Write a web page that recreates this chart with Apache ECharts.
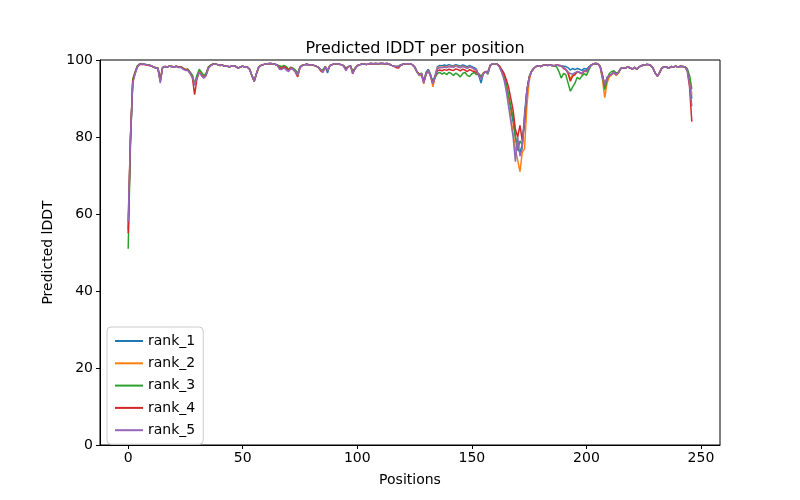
<!DOCTYPE html>
<html>
<head>
<meta charset="utf-8">
<script src="https://cdn.jsdelivr.net/npm/echarts@6/dist/echarts.min.js"></script>
<style>html,body{margin:0;padding:0;background:#fff;}#c{width:800px;height:500px;}</style>
</head>
<body>
<div id="c"></div>
<script>
const seriesNames = ["rank_1","rank_2","rank_3","rank_4","rank_5"];
const xTicks = [0,50,100,150,200,250];
const yTicks = [0,20,40,60,80,100];

const rank_1 = [
56,79,94.5,96.8,98.3,98.9,99,98.9,98.8,98.7,
98.5,98.2,98,97.8,94.5,98,98.3,98.2,98.4,98.3,
98.2,98.4,98.1,98.2,97.8,97.5,97.6,96.8,96,93.5,
95.8,97,96.3,95.6,96.3,98,98.6,98.9,99,98.8,
98.6,98.7,98.4,98.5,98.2,98.4,98.5,98.3,97.9,98.2,
98.4,98.1,98.2,97.6,96,94.5,96.5,98.2,98.6,98.8,
99,99,99.1,99,98.9,98.7,98,97.8,98.3,97.9,
97.5,98.1,97.8,97.3,96.5,98.2,98.6,98.8,98.9,98.7,
98.8,98.6,98.4,98.1,97.5,97,98.3,96.6,98.5,98.8,
99,99,98.9,98.8,98.5,97.6,98.2,98.5,97,97.8,
98.5,98.8,98.9,99,98.8,99,99.1,99,99.1,99,
99.1,99.1,99,99.1,98.9,98.6,98.4,98.3,98.4,98.7,
98.9,99,99,99,98.8,98.2,97,96.2,96.5,94.3,
96.8,97.6,96.2,94.2,96.2,98.3,98.6,98.5,98.7,98.5,
98.8,98.6,98.5,98.8,98.6,98.4,98.7,98.5,98.2,98.6,
98.3,98,97.6,96,94,96.5,97,97,98.6,99,
99,98.9,98.3,97,95.5,93,90,87,84,80,
77,76,78,86,92,95.5,97,97.8,98.3,98.5,
98.3,98.6,98.8,98.6,98.7,98.6,98.5,98.7,98.6,98.5,
98.4,98.3,98,97.4,97.8,97.5,97.8,97.6,97.3,97.8,
97.6,98.2,98.7,99,99.1,99,98.4,96.2,93.2,95.5,
96,96.3,96.8,96.2,96.8,97.8,98,97.9,98.2,98,
97.6,98.1,97.6,98.2,98.5,98.7,98.8,98.8,98.6,98,
96.6,95.8,96.8,98,98.2,98.1,97.9,98.3,98.2,98.4,
98.1,98.4,98.3,98.2,97.5,95,90];

const rank_2 = [
58,80,95,96.8,98.4,99,99.1,98.9,98.8,98.7,
98.5,98.2,98,97.8,94.5,98,98.3,98.2,98.4,98.3,
98.2,98.4,98.1,98.2,97.8,97.5,97.6,96.8,96,93.5,
95.6,97.2,96.4,95.6,96.4,98.1,98.6,98.9,99,98.8,
98.6,98.7,98.4,98.5,98.2,98.4,98.5,98.3,97.9,98.2,
98.4,98.1,98.2,97.6,96,94.5,96.5,98.2,98.6,98.8,
99,99,99.1,99,98.9,98.7,98.3,98.2,98.4,98.2,
97.5,98.1,97.8,97.3,96.5,98.2,98.6,98.8,98.9,98.7,
98.8,98.6,98.4,98.1,97.5,97,98.3,97.2,98.5,98.8,
99,99,98.9,98.8,98.5,97.6,98.2,98.5,97,97.8,
98.5,98.8,98.9,99,98.8,99,99.1,99,99.1,99,
99.1,99.1,99,99.1,98.9,98.6,98.4,98.3,98.4,98.7,
98.9,99,99,99,98.8,98.2,97,96,96,93.8,
96.4,97.4,95.8,93,95.8,98,98.2,98.1,98.3,98.2,
98.4,98.3,98.3,98.5,98.3,98,98.4,98.2,97.9,98.3,
98,97.6,97.4,96,95.5,96.7,97,96.8,98.6,99,
99,98.9,98.3,97,95.5,93,89,85,81,77,
74,71,76,77,88,94.5,97,97.8,98.3,98.5,
98.3,98.6,98.8,98.6,98.7,98.6,98.5,98.7,98.6,98.5,
98,97.6,96.8,95,96.2,96.2,97,96.8,96.3,97,
97,97.8,98.6,99,99.1,99,98.2,95,90.2,94,
95.6,96.2,96.6,96,96.6,97.8,98,98,98.2,98,
97.6,98.1,97.6,98.2,98.5,98.7,98.8,98.8,98.6,98,
96.6,95.8,96.8,98,98.2,98.1,97.9,98.3,98.2,98.4,
98.1,98.4,98.3,98.2,97.5,95.5,91];

const rank_3 = [
51,78,95,96.8,98.5,99,99,98.9,98.8,98.7,
98.5,98.2,98,98,94.8,98,98.3,98.2,98.4,98.3,
98.2,98.4,98.1,98.2,97.8,97.5,97.6,96.8,96,93.8,
96,97.6,96.8,96,96.5,98.2,98.7,99,99,98.8,
98.6,98.7,98.4,98.5,98.2,98.4,98.5,98.3,97.9,98.2,
98.4,98.1,98.2,97.6,96,94.5,96.5,98.2,98.6,98.8,
99,99,99.1,99,98.9,98.7,98.5,98.3,98.6,98.3,
97.5,98.1,97.8,97.3,96.5,98.2,98.6,98.8,98.9,98.7,
98.8,98.6,98.4,98.1,97.5,97.5,98.3,97.2,98.5,98.8,
99,99,98.9,98.8,98.5,98,98.2,98.5,97,97.8,
98.5,98.8,98.9,99,98.8,99,99.1,99,99.1,99,
99.1,99.1,99,99.1,98.9,98.6,98.4,98.3,98.4,98.7,
98.9,99,99,99,98.8,98.2,97,96.3,96.6,94.5,
96.5,97.4,96,94,95.5,96.5,96.8,96.3,96.7,96.2,
96.8,96.5,96,96.6,96.2,95.6,96.5,96.8,96,95.7,
96.4,96.8,96.2,96.5,95.8,96.5,97,96.3,98.6,99,
99,98.9,98.5,97.5,96.5,94,91,88,85,80,
76.5,79,78,84,92,95.5,97,97.8,98.3,98.5,
98.3,98.6,98.8,98.6,98.7,98.6,98.5,98.2,97,95.3,
96.5,96.2,94,91.9,93,94,95.5,95,95.8,96.5,
96,97.3,98.6,99,99.1,99,98.2,95.5,92.3,94.8,
96.5,97,97.2,96.6,96.8,97.8,98,97.9,98.2,98,
97.6,98.1,97.6,98.2,98.5,98.7,98.8,98.8,98.6,98,
96.6,95.8,96.8,98,98.2,98.1,97.9,98.3,98.2,98.4,
98.1,98.4,98.3,98.2,97.8,96,92.5];

const rank_4 = [
55,80,94.5,96.5,98.2,98.8,98.9,98.8,98.7,98.6,
98.5,98.2,98,97.8,94.5,98,98.3,98.2,98.4,98.3,
98.2,98.4,98.1,98.2,97.8,97.5,97.4,96.5,95.5,91,
95,96.8,96,95.3,96,97.9,98.6,98.9,99,98.8,
98.6,98.7,98.4,98.5,98.2,98.4,98.5,98.3,97.9,98.2,
98.4,98.1,98.2,97.6,96,94.5,96.5,98.2,98.6,98.8,
99,99,99.1,99,98.9,98.7,98,97.8,98.3,97.9,
97.4,98,97.5,96.8,95.6,98,98.6,98.8,98.9,98.7,
98.8,98.6,98.4,98.1,97.2,96.8,98.3,97.2,98.5,98.8,
99,99,98.9,98.8,98.5,97.6,98.2,98.5,96.4,97.8,
98.5,98.8,98.9,99,98.8,99,99.1,99,99.1,99,
99.1,99.1,99,99.1,98.9,98.6,98.4,98,97.9,98.7,
98.9,99,99,99,98.8,98.2,97,96.2,96.5,94.2,
96.3,97.2,95.8,93.8,95.8,97.2,97.4,97.2,97.5,97.3,
97.6,97.4,97.3,97.7,97.5,97.2,97.6,97.4,97,97.5,
97.2,97,96.8,96,95.2,96.4,97,96.6,98.6,99,
99,98.9,98.5,97.5,96.5,95,93,90,87,82,
80,83,79,84,92,95.5,97,97.8,98.3,98.5,
98.3,98.6,98.8,98.6,98.7,98.6,98.5,98.7,98.6,98.5,
97.8,97.5,96.5,94.5,95.8,96.2,97,96.7,96.5,97.2,
97.1,97.9,98.6,99,99.1,99,98.4,96,93.5,95.3,
96,96.3,96.8,96.2,96.8,97.8,98,97.9,98.2,98,
97.6,98.1,97.6,98.2,98.5,98.7,98.8,98.8,98.6,98,
96.6,95.8,96.8,98,98.2,98.1,97.9,98.3,98.2,98.4,
98.1,98.4,98.3,98.2,97.2,93,84];

const rank_5 = [
58,80,94,96.3,98.2,98.9,99,98.9,98.8,98.7,
98.5,98.2,98,97.8,94,98,98.3,98.2,98.4,98.3,
98.1,98.3,98,98.1,97.6,97.3,97.3,96.5,95.5,93.5,
95.3,96.8,96,95.3,96,97.8,98.5,98.9,99,98.8,
98.6,98.7,98.4,98.5,98.2,98.4,98.5,98.3,97.9,98.2,
98.4,98.1,98.2,97.6,96,94.5,96.5,98.2,98.6,98.8,
99,99,99.1,99,98.9,98.7,97.6,97.5,98,97.4,
97,97.8,97.5,97,96,98.1,98.6,98.8,98.9,98.7,
98.8,98.6,98.4,98.1,97.5,96.8,98.3,97.2,98.5,98.8,
99,99,98.9,98.8,98.5,97.2,98.2,98.5,96.5,97.8,
98.5,98.8,98.9,99,98.8,99,99.1,99,99.1,99,
99.1,99.1,99,99.1,98.9,98.6,98.4,98.3,98.4,98.7,
98.9,99,99,99,98.8,98.2,97,96,96.5,94,
96.3,97.3,95.8,93.8,95.8,97.8,98,98,98.2,98,
98.3,98.2,98.1,98.4,98.2,98,98.3,98.1,97.8,98.2,
98,97.6,97.4,96,95,96.5,97,96.5,98.6,99,
99,98.9,98.2,96.8,95,92,88,84,80,73.6,
80,75,77,85,92,95.5,97,97.8,98.3,98.5,
98.3,98.6,98.8,98.6,98.7,98.6,98.5,98.7,98.6,98.5,
98,97.6,96.8,96.5,96.3,96.7,97,96.8,96.5,97.2,
97,97.9,98.6,99,99.1,99,98.3,95.5,93.6,95.3,
96,96.3,96.8,96.2,96.8,97.8,98,97.9,98.2,98,
97.6,98.1,97.6,98.2,98.5,98.7,98.8,98.8,98.6,98,
96.6,95.8,96.8,98,98.2,98.1,97.9,98.3,98.2,98.4,
98.1,98.4,98.3,98.2,97.3,94,88];

const allValues = [rank_1, rank_2, rank_3, rank_4, rank_5];
const colors = ['#1f77b4','#ff7f0e','#2ca02c','#d62728','#9467bd'];
const FONT = 'DejaVu Sans';

const chart = echarts.init(document.getElementById('c'), null, {renderer:'canvas'});
const series = seriesNames.map((name, k) => ({
  name: name,
  type: 'line',
  data: allValues[k].map((v, i) => [i, v]),
  showSymbol: false,
  symbol: 'none',
  lineStyle: {color: colors[k], width: 1.5},
  itemStyle: {color: colors[k]},
  animation: false,
  z: 2 + k
}));

chart.setOption({
  animation: false,
  backgroundColor: '#ffffff',
  title: {
    text: 'Predicted lDDT per position',
    left: 410, top: 36, textAlign: 'center',
    textStyle: {fontFamily: FONT, fontSize: 16, fontWeight: 'normal', color: '#000'}
  },
  grid: {left: 100, right: 80, top: 60, bottom: 55, show: true, borderColor: '#000', borderWidth: 1, backgroundColor: 'transparent'},
  legend: {
    orient: 'vertical', left: 107, top: 327,
    data: seriesNames,
    icon: 'rect', itemWidth: 28, itemHeight: 2, itemGap: 8.3,
    textStyle: {fontFamily: FONT, fontSize: 14, color: '#000'},
    backgroundColor: 'rgba(255,255,255,0.8)', borderColor: '#cccccc', borderWidth: 1, borderRadius: 4,
    padding: [7, 8, 7, 8]
  },
  xAxis: {
    type: 'value', min: -12.3, max: 258.3,
    name: 'Positions', nameLocation: 'middle', nameGap: 28,
    nameTextStyle: {fontFamily: FONT, fontSize: 14, color: '#000'},
    axisLine: {show: true, onZero: false, lineStyle: {color: '#000', width: 1}},
    axisTick: {show: true, length: 4, inside: false, customValues: xTicks, lineStyle: {color: '#000'}},
    axisLabel: {fontFamily: FONT, fontSize: 14, color: '#000', margin: 6, customValues: xTicks},
    splitLine: {show: false}
  },
  yAxis: {
    type: 'value', min: 0, max: 100, interval: 20,
    name: 'Predicted lDDT', nameLocation: 'middle', nameGap: 44, nameRotate: 90,
    nameTextStyle: {fontFamily: FONT, fontSize: 14, color: '#000'},
    axisLine: {show: true, onZero: false, lineStyle: {color: '#000', width: 1}},
    axisTick: {show: true, length: 4, inside: false, lineStyle: {color: '#000'}},
    axisLabel: {fontFamily: FONT, fontSize: 14, color: '#000', margin: 7},
    splitLine: {show: false}
  },
  series: series
});
</script>
</body>
</html>
